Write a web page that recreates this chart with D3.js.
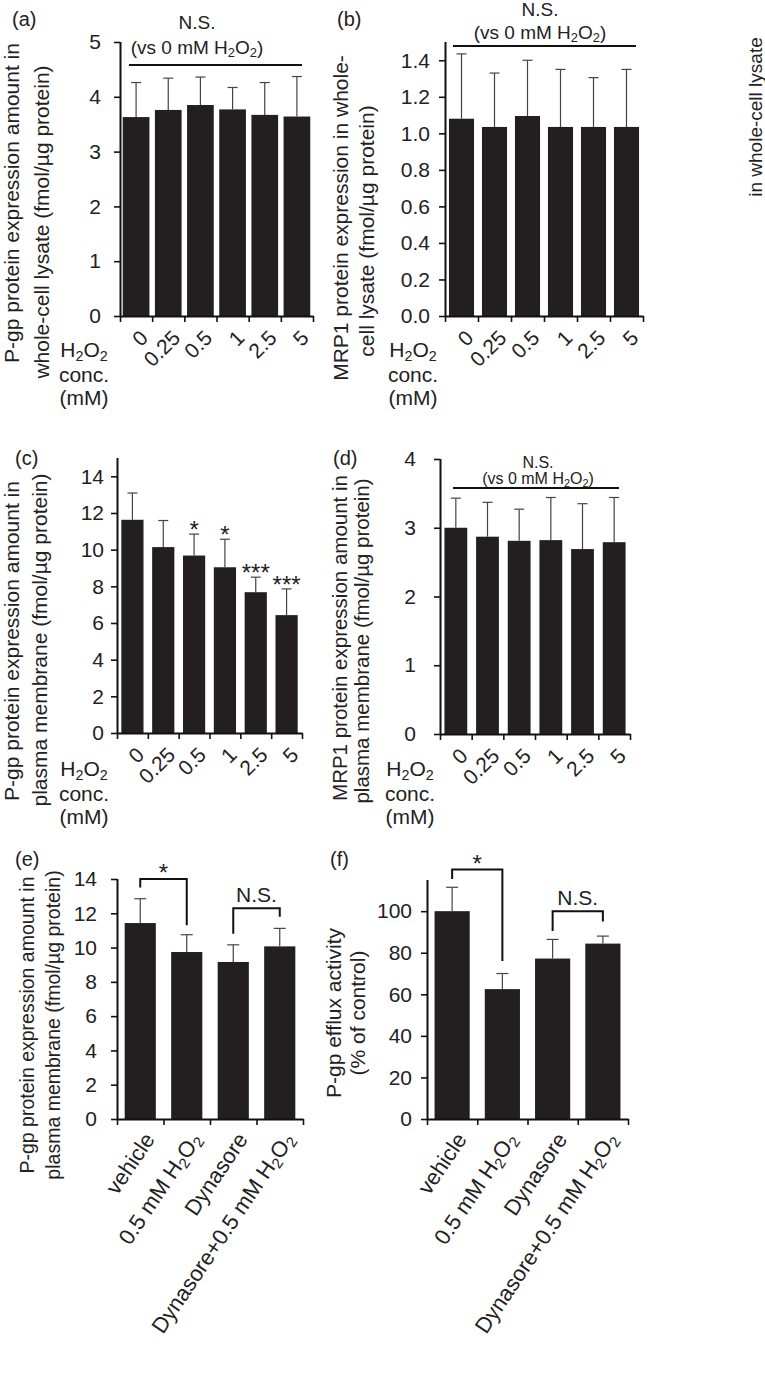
<!DOCTYPE html>
<html><head><meta charset="utf-8">
<script src="https://cdn.jsdelivr.net/npm/d3@7"></script>
<style>
body{margin:0;background:#fff;}
svg{display:block;font-family:"Liberation Sans",Arial,sans-serif;}
</style></head><body>
<svg id="chart" width="765" height="1385"></svg>
<script>
// ---------- DATA ----------
const concCategories = ["0","0.25","0.5","1","2.5","5"];
const treatCategories = ["vehicle","0.5 mM H2O2","Dynasore","Dynasore+0.5 mM H2O2"];

const pgpLysateMean = [3.63,3.76,3.85,3.77,3.67,3.64];
const pgpLysateSD   = [0.63,0.58,0.51,0.40,0.59,0.73];
const pgpLysateTicks = [0,1,2,3,4,5];

const mrp1LysateMean = [1.08,1.035,1.095,1.035,1.035,1.035];
const mrp1LysateSD   = [0.355,0.295,0.305,0.315,0.27,0.315];
const mrp1LysateTicks = [0,0.2,0.4,0.6,0.8,1.0,1.2,1.4];

const pgpMembraneMean = [11.63,10.14,9.68,9.04,7.68,6.43];
const pgpMembraneSD   = [1.46,1.45,1.17,1.53,0.82,1.43];
const pgpMembraneSig  = ["","","*","*","***","***"];
const pgpMembraneTicks = [0,2,4,6,8,10,12,14];

const mrp1MembraneMean = [3.00,2.87,2.81,2.82,2.69,2.79];
const mrp1MembraneSD   = [0.43,0.50,0.46,0.62,0.66,0.65];
const mrp1MembraneTicks = [0,1,2,3,4];

const pgpDynMean = [11.43,9.74,9.16,10.07];
const pgpDynSD   = [1.42,1.01,1.0,1.05];
const pgpDynTicks = [0,2,4,6,8,10,12,14];

const effluxMean = [100,62.5,77.2,84.4];
const effluxSD   = [11.5,7.5,9.2,3.6];
const effluxTicks = [0,20,40,60,80,100];

// ---------- HELPERS ----------
const svg = d3.select("#chart");
const BAR = "#231f20";
const INK = "#222";

function richText(sel, str){
  const parts = str.split(/(H2O2)/);
  let reset = false;
  const plain = (txt)=>{
    const t = sel.append("tspan").text(txt);
    if(reset){ t.attr("dy","-0.17em"); reset = false; }
  };
  const sub = (txt)=>{
    sel.append("tspan").attr("dy","0.25em").attr("font-size","68%").text(txt);
    reset = true;
  };
  parts.forEach(p=>{
    if(p==="H2O2"){ plain("H"); sub("2"); plain("O"); sub("2"); }
    else if(p.length){ plain(p); }
  });
}

function drawPanel(c){
  const g = svg.append("g");
  const y = d3.scaleLinear().domain([0,c.max]).range([c.y0,c.yTop]);
  const x = d3.scaleBand().domain(c.cats).range([c.x0,c.x1])
              .paddingInner(c.pad).paddingOuter(c.pad/2);
  const slot = d3.scaleLinear().domain([0,c.cats.length]).range([c.x0,c.x1]);

  g.selectAll("rect.bar").data(c.mean).join("rect")
    .attr("x",(d,i)=>x(c.cats[i])).attr("width",x.bandwidth())
    .attr("y",d=>y(d)).attr("height",d=>y(0)-y(d)).attr("fill",BAR);

  const eg = g.append("g").attr("stroke","#444").attr("stroke-width",1.2);
  c.mean.forEach((m,i)=>{
    const cx = x(c.cats[i])+x.bandwidth()/2;
    eg.append("line").attr("x1",cx).attr("x2",cx).attr("y1",y(m)).attr("y2",y(m+c.sd[i]));
    eg.append("line").attr("x1",cx-c.cap).attr("x2",cx+c.cap).attr("y1",y(m+c.sd[i])).attr("y2",y(m+c.sd[i]));
  });

  const ya = g.append("g").attr("transform",`translate(${c.x0},0)`)
    .call(d3.axisLeft(y).tickValues(c.ticks).tickFormat(c.fmt).tickSize(6).tickSizeOuter(0).tickPadding(c.tickPad));
  ya.select(".domain").attr("stroke","#111").attr("stroke-width",2).attr("d",`M0.5,${c.y0}V${c.yTop}`);
  ya.selectAll(".tick line").attr("stroke","#111").attr("stroke-width",1.6);
  ya.selectAll(".tick text").attr("font-size",c.fs).attr("fill",INK).attr("font-family","Liberation Sans, Arial, sans-serif");

  const xa = g.append("g").attr("transform",`translate(0,${c.y0})`)
    .call(d3.axisBottom(slot).tickValues(d3.range(c.cats.length+1)).tickFormat("").tickSize(6).tickSizeOuter(0));
  xa.select(".domain").attr("stroke","#111").attr("stroke-width",2);
  xa.selectAll(".tick line").attr("stroke","#111").attr("stroke-width",1.6);

  c.cats.forEach((cat,i)=>{
    const cx = x(cat)+x.bandwidth()/2;
    const t = g.append("text")
      .attr("transform",`translate(${cx+c.lx},${c.y0+c.ly}) rotate(${c.rot})`)
      .attr("text-anchor","end").attr("dy","0.35em")
      .attr("font-size",c.xfs).attr("fill",INK);
    richText(t,cat);
  });

  c.title.forEach((line,k)=>{
    const t = g.append("text")
      .attr("transform",`translate(${c.titleX[k]},${c.titleY[k]}) rotate(-90)`)
      .attr("text-anchor","middle").attr("font-size",c.tfs).attr("fill",INK);
    richText(t,line);
  });

  g.append("text").attr("x",c.letter[0]).attr("y",c.letter[1]).attr("font-size",20)
    .attr("fill",INK).text(c.id);

  return {x,y,g};
}

function concLegend(cx, baseY){
  const lines = ["H2O2","conc.","(mM)"];
  const gaps = [0,25,48];
  lines.forEach((l,k)=>{
    const t = svg.append("text").attr("x",cx).attr("y",baseY+gaps[k]).attr("text-anchor","middle")
      .attr("font-size",21).attr("fill",INK);
    richText(t,l);
  });
}

function nsBlock(cx, y1, y2, lineY, lx1, lx2, fs){
  svg.append("text").attr("x",cx).attr("y",y1).attr("text-anchor","middle").attr("font-size",fs).attr("fill",INK).text("N.S.");
  const t = svg.append("text").attr("x",cx).attr("y",y2).attr("text-anchor","middle").attr("font-size",fs).attr("fill",INK);
  richText(t,"(vs 0 mM H2O2)");
  svg.append("line").attr("x1",lx1).attr("x2",lx2).attr("y1",lineY).attr("y2",lineY).attr("stroke","#111").attr("stroke-width",2);
}

function bracket(P, i1, i2, topVal, leg1Val, leg2Val, label, fs, labelDy){
  const c1 = P.x(P.x.domain()[i1])+P.x.bandwidth()/2;
  const c2 = P.x(P.x.domain()[i2])+P.x.bandwidth()/2;
  const yt = P.y(topVal);
  svg.append("path").attr("fill","none").attr("stroke","#111").attr("stroke-width",2)
    .attr("d",`M${c1},${P.y(leg1Val)}V${yt}H${c2}V${P.y(leg2Val)}`);
  svg.append("text").attr("x",(c1+c2)/2).attr("y",yt-labelDy).attr("text-anchor","middle")
    .attr("font-size",fs).attr("fill",INK).text(label);
}

const fmtInt = d3.format("d");
const fmt1 = d3.format(".1f");

// ---------- PANEL (a) ----------
const A = drawPanel({id:"(a)",letter:[12,26],cats:concCategories,mean:pgpLysateMean,sd:pgpLysateSD,
  ticks:pgpLysateTicks,fmt:fmtInt,max:5,x0:120,x1:313,y0:316,yTop:42,pad:0.17,cap:5,
  fs:21,xfs:21,rot:-45,tickPad:13,lx:8,ly:18,
  title:["P-gp protein expression amount in","whole-cell lysate (fmol/µg protein)"],
  titleX:[19,49],titleY:[203,222],tfs:21});
nsBlock(197,29,54,65,129,302,19);
concLegend(84,357);

// ---------- PANEL (b) ----------
const B = drawPanel({id:"(b)",letter:[337,26],cats:concCategories,mean:mrp1LysateMean,sd:mrp1LysateSD,
  ticks:mrp1LysateTicks,fmt:fmt1,max:1.5,x0:445,x1:643,y0:316,yTop:42,pad:0.24,cap:5,
  fs:21,xfs:21,rot:-45,tickPad:9,lx:8,ly:18,
  title:["MRP1 protein expression in whole-","cell lysate (fmol/µg protein)"],
  titleX:[348,374],titleY:[218,231],tfs:21});
nsBlock(540,16,39,46,453,636,19);
concLegend(413,357);

// ---------- PANEL (c) ----------
const Cp = drawPanel({id:"(c)",letter:[15,465],cats:concCategories,mean:pgpMembraneMean,sd:pgpMembraneSD,
  ticks:pgpMembraneTicks,fmt:fmtInt,max:15,x0:117,x1:302,y0:733,yTop:458,pad:0.28,cap:5,
  fs:21,xfs:21,rot:-45,tickPad:7,lx:8,ly:18,
  title:["P-gp protein expression amount in","plasma membrane (fmol/µg protein)"],
  titleX:[19,47],titleY:[641,640],tfs:21});
pgpMembraneSig.forEach((s,i)=>{
  if(!s) return;
  const cx = Cp.x(concCategories[i])+Cp.x.bandwidth()/2;
  svg.append("text").attr("x",cx).attr("y",Cp.y(pgpMembraneMean[i]+pgpMembraneSD[i])+4)
    .attr("text-anchor","middle").attr("font-size",24).attr("fill",INK).text(s);
});
concLegend(84,776);

// ---------- PANEL (d) ----------
const D = drawPanel({id:"(d)",letter:[333,465],cats:concCategories,mean:mrp1MembraneMean,sd:mrp1MembraneSD,
  ticks:mrp1MembraneTicks,fmt:fmtInt,max:4,x0:440,x1:630,y0:734,yTop:459,pad:0.28,cap:5,
  fs:21,xfs:21,rot:-45,tickPad:18,lx:8,ly:18,
  title:["MRP1 protein expression amount in","plasma membrane (fmol/µg protein)"],
  titleX:[347,369],titleY:[638,641],tfs:20.5});
nsBlock(538,468,484,488,453,619,16);
concLegend(410,776);

// ---------- PANEL (e) ----------
const E = drawPanel({id:"(e)",letter:[15,866],cats:treatCategories,mean:pgpDynMean,sd:pgpDynSD,
  ticks:pgpDynTicks,fmt:fmtInt,max:14,x0:117,x1:303,y0:1119,yTop:879,pad:0.33,cap:6,
  fs:21,xfs:22,rot:-56,tickPad:14,lx:9,ly:16,
  title:["P-gp protein expression amount in","plasma membrane (fmol/µg protein)"],
  titleX:[34,60],titleY:[1025,1025],tfs:19.5});
bracket(E,0,1,14,13.5,11.3,"*",24,-2);
bracket(E,2,3,12.3,10.8,11.8,"N.S.",21,6);

// ---------- PANEL (f) ----------
const F = drawPanel({id:"(f)",letter:[330,866],cats:treatCategories,mean:effluxMean,sd:effluxSD,
  ticks:effluxTicks,fmt:fmtInt,max:115,x0:427,x1:628,y0:1119,yTop:880,pad:0.3,cap:6,
  fs:21,xfs:22,rot:-56,tickPad:9,lx:9,ly:16,
  title:["P-gp efflux activity","(% of control)"],
  titleX:[341,365],titleY:[1013,1013],tfs:21});
bracket(F,0,1,120,115.5,76,"*",24,-2);
bracket(F,2,3,100,90.5,95,"N.S.",21,6);

// ---------- stray right-edge label ----------
svg.append("text").attr("transform","translate(762,117) rotate(-90)").attr("text-anchor","middle")
  .attr("font-size",19).attr("fill",INK).text("in whole-cell lysate");
</script>
</body></html>
